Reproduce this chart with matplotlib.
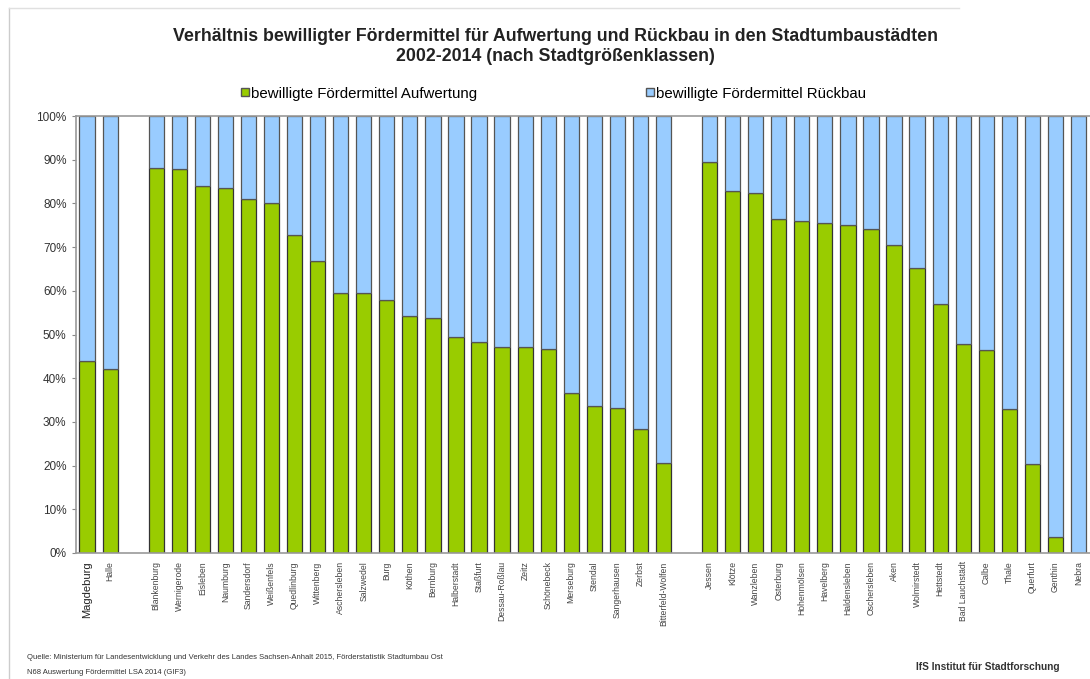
import numpy as np
import matplotlib.pyplot as plt
from matplotlib.lines import Line2D

plt.rcParams['font.family'] = ['Liberation Sans', 'DejaVu Sans']

# Städte in drei Größenklassen (Großstädte, Mittelstädte, Kleinstädte)
staedte_gross = ['Magdeburg', 'Halle']
staedte_mittel = ['Blankenburg', 'Wernigerode', 'Eisleben', 'Naumburg', 'Sandersdorf',
                  'Weißenfels', 'Quedlinburg', 'Wittenberg', 'Aschersleben', 'Salzwedel',
                  'Burg', 'Köthen', 'Bernburg', 'Halberstadt', 'Staßfurt', 'Dessau-Roßlau',
                  'Zeitz', 'Schönebeck', 'Merseburg', 'Stendal', 'Sangerhausen', 'Zerbst',
                  'Bitterfeld-Wolfen']
staedte_klein = ['Jessen', 'Klötze', 'Wanzleben', 'Osterburg', 'Hohenmölsen', 'Havelberg',
                 'Haldensleben', 'Oschersleben', 'Aken', 'Wolmirstedt', 'Hettstedt',
                 'Bad Lauchstädt', 'Calbe', 'Thale', 'Querfurt', 'Genthin', 'Nebra']

# Anteil Aufwertung in Prozent (Rest = Rückbau)
aufw_gross = [43.9, 42.0]
aufw_mittel = [88.2, 87.8, 84.1, 83.6, 81.0, 80.2, 72.8, 66.9, 59.6, 59.5, 58.0, 54.3,
               53.8, 49.4, 48.3, 47.2, 47.1, 46.6, 36.6, 33.7, 33.3, 28.3, 20.7]
aufw_klein = [89.4, 82.9, 82.3, 76.5, 76.1, 75.6, 75.0, 74.2, 70.4, 65.3, 56.9, 47.8,
              46.5, 32.9, 20.4, 3.7, 0.0]

namen = staedte_gross + staedte_mittel + staedte_klein
aufw = np.array(aufw_gross + aufw_mittel + aufw_klein)
rueck = 100 - aufw

# Positionen mit je einer Lücke zwischen den Größenklassen
pos = np.concatenate([np.arange(len(staedte_gross)),
                      np.arange(len(staedte_mittel)) + len(staedte_gross) + 1,
                      np.arange(len(staedte_klein)) + len(staedte_gross) + len(staedte_mittel) + 2])

gruen = '#99cc00'
blau = '#99ccff'

fig = plt.figure(figsize=(10.9, 6.79), dpi=100)
ax = fig.add_axes([0.0693, 0.1856, 0.9307, 0.6434])

ax.bar(pos, aufw, width=0.66, color=gruen, edgecolor='#333333', linewidth=0.9)
ax.bar(pos, rueck, bottom=aufw, width=0.66, color=blau, edgecolor='#555555', linewidth=0.9)

ax.set_xlim(-0.5, pos[-1] + 0.5)
ax.set_ylim(0, 100)
ax.set_yticks(np.arange(0, 101, 10))
ax.set_yticklabels([f'{v}%' for v in range(0, 101, 10)], fontsize=8.5, color='#333333')
ax.tick_params(axis='y', length=3, color='#888888')
ax.set_xticks(pos)
ax.set_xticklabels(namen, rotation=90, fontsize=6.2, color='#444444')
ax.tick_params(axis='x', length=0, pad=6)
ax.get_xticklabels()[0].set_fontsize(8)
ax.get_xticklabels()[0].set_color('#222222')

for s in ['left', 'bottom', 'top']:
    ax.spines[s].set_color('#999999')
    ax.spines[s].set_linewidth(1.2)
ax.spines['right'].set_visible(False)

fig.text(0.51, 0.932, 'Verhältnis bewilligter Fördermittel für Aufwertung und Rückbau in den Stadtumbaustädten\n2002-2014 (nach Stadtgrößenklassen)',
         ha='center', va='center', fontsize=12.8, fontweight='bold', color='#222222', linespacing=1.25)

# Legende oben, zweispaltig
griffe = [Line2D([], [], marker='s', linestyle='', markersize=5.5, markerfacecolor=gruen, markeredgecolor='#555555'),
          Line2D([], [], marker='s', linestyle='', markersize=5.5, markerfacecolor=blau, markeredgecolor='#555555')]
fig.legend(griffe, ['bewilligte Fördermittel Aufwertung', 'bewilligte Fördermittel Rückbau'],
           loc='center', bbox_to_anchor=(0.507, 0.862), ncol=2, frameon=False, fontsize=10.8,
           handletextpad=0.05, columnspacing=11.2, handlelength=0.7)

fig.text(0.025, 0.032, 'Quelle: Ministerium für Landesentwicklung und Verkehr des Landes Sachsen-Anhalt 2015, Förderstatistik Stadtumbau Ost',
         fontsize=5.5, color='#333333', va='center')
fig.text(0.025, 0.010, 'N68 Auswertung Fördermittel LSA 2014 (GIF3)', fontsize=5.5, color='#333333', va='center')
fig.text(0.84, 0.018, 'IfS Institut für Stadtforschung', fontsize=7.3, fontweight='bold', color='#333333', va='center')

fig.add_artist(Line2D([0.008, 0.008], [0.0, 0.988], color='#cccccc', linewidth=1))
fig.add_artist(Line2D([0.008, 0.88], [0.988, 0.988], color='#e0e0e0', linewidth=1))

fig.savefig('out.png', dpi=100)
